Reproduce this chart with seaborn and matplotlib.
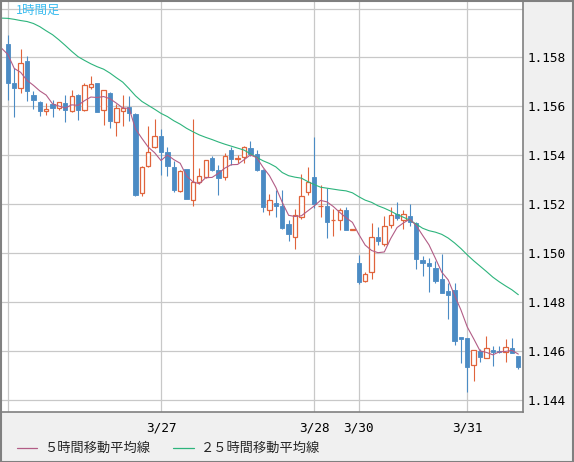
import numpy as np
import pandas as pd
import matplotlib
matplotlib.use("Agg")
import matplotlib.pyplot as plt
import seaborn as sns
from matplotlib.lines import Line2D
from matplotlib.patches import Rectangle

# ---- data (hourly candles, index 0 = 3/26 00:00) ----
opens = [1.15856, 1.15696, 1.15674, 1.15786, 1.15646, 1.15619, 1.15580, 1.15609, 1.15593, 1.15614,
         1.15580, 1.15647, 1.15583, 1.15681, 1.15696, 1.15583, 1.15654, 1.15535, 1.15580, 1.15598,
         1.15569, 1.15245, 1.15354, 1.15433, 1.15477, 1.15413, 1.15352, 1.15254, 1.15344, 1.15216,
         1.15290, 1.15309, 1.15390, 1.15340, 1.15310, 1.15422, 1.15383, 1.15392, 1.15430, 1.15406,
         1.15340, 1.15175, 1.15205, 1.15193, 1.15119, 1.15067, 1.15149, 1.15249, 1.15312, 1.15192,
         1.15193, 1.15133, 1.15134, 1.15176, 1.15094, 1.14958, 1.14887, 1.14921, 1.15066, 1.15035,
         1.15115, 1.15160, 1.15133, 1.15152, 1.15122, 1.14972, 1.14960, 1.14938, 1.14894, 1.14844,
         1.14849, 1.14655, 1.14653, 1.14541, 1.14597, 1.14570, 1.14602, 1.14598, 1.14594, 1.14610,
         1.14579]
highs = [1.15890, 1.15756, 1.15835, 1.15807, 1.15664, 1.15620, 1.15613, 1.15624, 1.15619, 1.15646,
         1.15666, 1.15649, 1.15695, 1.15725, 1.15697, 1.15668, 1.15660, 1.15608, 1.15647, 1.15643,
         1.15572, 1.15354, 1.15520, 1.15548, 1.15507, 1.15434, 1.15377, 1.15338, 1.15345, 1.15548,
         1.15347, 1.15381, 1.15398, 1.15359, 1.15409, 1.15432, 1.15402, 1.15436, 1.15459, 1.15422,
         1.15342, 1.15242, 1.15256, 1.15256, 1.15133, 1.15181, 1.15324, 1.15352, 1.15473, 1.15277,
         1.15267, 1.15181, 1.15183, 1.15189, 1.15096, 1.14992, 1.14923, 1.15122, 1.15108, 1.15152,
         1.15187, 1.15208, 1.15174, 1.15201, 1.15125, 1.14988, 1.14979, 1.14969, 1.14996, 1.14876,
         1.14876, 1.14655, 1.14653, 1.14604, 1.14608, 1.14661, 1.14621, 1.14620, 1.14647, 1.14653,
         1.14580]
lows = [1.15627, 1.15555, 1.15654, 1.15620, 1.15590, 1.15559, 1.15565, 1.15555, 1.15586, 1.15534,
        1.15578, 1.15545, 1.15579, 1.15672, 1.15575, 1.15522, 1.15510, 1.15477, 1.15520, 1.15541,
        1.15235, 1.15231, 1.15350, 1.15429, 1.15318, 1.15316, 1.15250, 1.15250, 1.15219, 1.15194,
        1.15284, 1.15306, 1.15335, 1.15239, 1.15299, 1.15361, 1.15367, 1.15370, 1.15395, 1.15336,
        1.15166, 1.15156, 1.15149, 1.15099, 1.15047, 1.15018, 1.15140, 1.15236, 1.15182, 1.15148,
        1.15062, 1.15071, 1.15092, 1.15092, 1.15094, 1.14874, 1.14879, 1.14894, 1.15031, 1.15029,
        1.15101, 1.15133, 1.15096, 1.15112, 1.14936, 1.14904, 1.14842, 1.14876, 1.14838, 1.14728,
        1.14623, 1.14548, 1.14432, 1.14474, 1.14555, 1.14570, 1.14538, 1.14590, 1.14552, 1.14591,
        1.14523]
closes = [1.15694, 1.15673, 1.15777, 1.15661, 1.15624, 1.15579, 1.15590, 1.15594, 1.15617, 1.15586,
          1.15642, 1.15583, 1.15687, 1.15691, 1.15575, 1.15666, 1.15538, 1.15594, 1.15593, 1.15571,
          1.15238, 1.15351, 1.15413, 1.15477, 1.15412, 1.15354, 1.15256, 1.15335, 1.15219, 1.15291,
          1.15314, 1.15380, 1.15340, 1.15305, 1.15396, 1.15383, 1.15388, 1.15432, 1.15406, 1.15340,
          1.15186, 1.15216, 1.15190, 1.15104, 1.15076, 1.15157, 1.15232, 1.15291, 1.15202, 1.15194,
          1.15125, 1.15136, 1.15174, 1.15092, 1.15096, 1.14883, 1.14915, 1.15066, 1.15047, 1.15110,
          1.15156, 1.15141, 1.15159, 1.15126, 1.14977, 1.14957, 1.14945, 1.14886, 1.14838, 1.14826,
          1.14638, 1.14646, 1.14535, 1.14601, 1.14574, 1.14610, 1.14595, 1.14594, 1.14614, 1.14591,
          1.14534]

# moving averages (index -1 .. 80)
ma_index = list(range(-1, 81))
ma5 = [1.15838, 1.15812, 1.15755, 1.15739, 1.15706, 1.15686, 1.15663, 1.15646, 1.15610, 1.15601,
       1.15593, 1.15606, 1.15604, 1.15623, 1.15638, 1.15636, 1.15640, 1.15631, 1.15613, 1.15593,
       1.15592, 1.15507, 1.15469, 1.15433, 1.15410, 1.15378, 1.15401, 1.15382, 1.15367, 1.15315,
       1.15291, 1.15283, 1.15308, 1.15309, 1.15326, 1.15347, 1.15361, 1.15362, 1.15381, 1.15401,
       1.15390, 1.15350, 1.15316, 1.15268, 1.15207, 1.15154, 1.15149, 1.15152, 1.15172, 1.15192,
       1.15215, 1.15209, 1.15190, 1.15166, 1.15144, 1.15125, 1.15076, 1.15032, 1.15010, 1.15001,
       1.15004, 1.15059, 1.15104, 1.15123, 1.15138, 1.15112, 1.15072, 1.15033, 1.14978, 1.14921,
       1.14890, 1.14827, 1.14767, 1.14697, 1.14649, 1.14599, 1.14593, 1.14583, 1.14595, 1.14597,
       1.14601, 1.14586]
ma25 = [1.15961, 1.15960, 1.15956, 1.15951, 1.15947, 1.15939, 1.15926, 1.15909, 1.15893, 1.15872,
        1.15849, 1.15825, 1.15803, 1.15788, 1.15774, 1.15762, 1.15752, 1.15736, 1.15717, 1.15699,
        1.15672, 1.15643, 1.15620, 1.15604, 1.15588, 1.15571, 1.15558, 1.15541, 1.15527, 1.15510,
        1.15496, 1.15483, 1.15473, 1.15464, 1.15454, 1.15445, 1.15437, 1.15429, 1.15421, 1.15406,
        1.15391, 1.15377, 1.15366, 1.15352, 1.15329, 1.15316, 1.15310, 1.15306, 1.15292, 1.15280,
        1.15269, 1.15265, 1.15261, 1.15257, 1.15254, 1.15246, 1.15230, 1.15216, 1.15207, 1.15193,
        1.15183, 1.15171, 1.15157, 1.15146, 1.15134, 1.15118, 1.15101, 1.15091, 1.15085, 1.15076,
        1.15061, 1.15041, 1.15018, 1.14992, 1.14968, 1.14946, 1.14924, 1.14901, 1.14882, 1.14865,
        1.14849, 1.14829]

date_ticks = [0, 24, 48, 55, 72]
date_labels = ["", "3/27", "3/28", "3/30", "3/31"]
price_ticks = [1.144, 1.146, 1.148, 1.150, 1.152, 1.154, 1.156, 1.158, 1.160]
price_labels = ["1.144", "1.146", "1.148", "1.150", "1.152", "1.154", "1.156", "1.158", ""]
title_text = "1時間足"
legend_labels = ["５時間移動平均線", "２５時間移動平均線"]

# ---- style ----
sns.set_style("white")
plt.rcParams["font.family"] = ["DejaVu Sans Mono", "Noto Sans CJK JP"]

UP = "#e0643c"
DOWN = "#4b8bc4"
MA5_C = "#b25d86"
MA25_C = "#2db47c"
GRID = "#c8c8c8"
FRAME = "#808080"
BG = "#f0f0f0"

W, H = 574, 462
fig = plt.figure(figsize=(W / 100, H / 100), dpi=100, facecolor=BG)
ax = fig.add_axes([1 / W, 1 - 412 / H, 522.3 / W, 411 / H])
ax.set_facecolor("white")

df = pd.DataFrame({"i": np.arange(len(opens)), "open": opens, "high": highs,
                   "low": lows, "close": closes})
up = df["close"] >= df["open"]

# grid
for t in price_ticks:
    ax.axhline(t, color=GRID, lw=0.9, zorder=0)
for t in date_ticks:
    ax.axvline(t, color=GRID, lw=0.9, zorder=0)

bw = 0.68
# wicks
for _, r in df.iterrows():
    c = UP if r["close"] >= r["open"] else DOWN
    top = max(r["open"], r["close"])
    bot = min(r["open"], r["close"])
    ax.vlines(r["i"], top, r["high"], color=c, lw=0.8, zorder=2)
    ax.vlines(r["i"], r["low"], bot, color=c, lw=0.8, zorder=2)

d = df[~up]
ax.bar(d["i"], d["open"] - d["close"], bottom=d["close"], width=bw,
       color=DOWN, edgecolor=DOWN, linewidth=0.6, zorder=3)
u = df[up]
hgt = np.maximum(u["close"] - u["open"], 0.000015)
ax.bar(u["i"], hgt, bottom=u["open"], width=bw,
       facecolor="white", edgecolor=UP, linewidth=0.9, zorder=3)

ma_df = pd.DataFrame({"i": ma_index, "ma5": ma5, "ma25": ma25})
sns.lineplot(data=ma_df, x="i", y="ma25", color=MA25_C, lw=0.8, ax=ax, zorder=4, legend=False)
sns.lineplot(data=ma_df, x="i", y="ma5", color=MA5_C, lw=0.8, ax=ax, zorder=5, legend=False)

ax.set_xlim(-1.08, 80.78)
ax.set_ylim(1.14349, 1.16031)
ax.set_xlabel("")
ax.set_ylabel("")

ax.yaxis.tick_right()
ax.set_yticks(price_ticks)
ax.set_yticklabels(price_labels)
ax.set_xticks(date_ticks)
ax.set_xticklabels(date_labels)
ax.tick_params(axis="y", length=0, pad=3, labelsize=9.2, colors="black")
ax.tick_params(axis="x", length=0, pad=7, labelsize=9.2, colors="black")
for s in ax.spines.values():
    s.set_visible(True)
    s.set_color(FRAME)
    s.set_linewidth(1.2)

ax.text(15 / 522.3, 1 - 9 / 411, title_text, transform=ax.transAxes,
        color="#3cbcef", fontsize=9, family=["Noto Sans CJK JP", "DejaVu Sans"],
        ha="left", va="center")

# legend
ly = 1 - 448 / H
fig.add_artist(Line2D([16.5 / W, 36.6 / W], [ly, ly], color=MA5_C, lw=0.9))
fig.text(44.5 / W, ly, legend_labels[0], fontsize=9.5, va="center", ha="left",
         family=["Noto Sans CJK JP", "DejaVu Sans"])
fig.add_artist(Line2D([173 / W, 194 / W], [ly, ly], color=MA25_C, lw=0.9))
fig.text(201 / W, ly, legend_labels[1], fontsize=9.5, va="center", ha="left",
         family=["Noto Sans CJK JP", "DejaVu Sans"])

# outer frame
fig.add_artist(Rectangle((0.5 / W, 0.5 / H), 1 - 1.5 / W, 1 - 1.5 / H,
                         transform=fig.transFigure, fill=False, edgecolor=FRAME, lw=1.5))

fig.savefig("out.png", dpi=100, facecolor=BG)
